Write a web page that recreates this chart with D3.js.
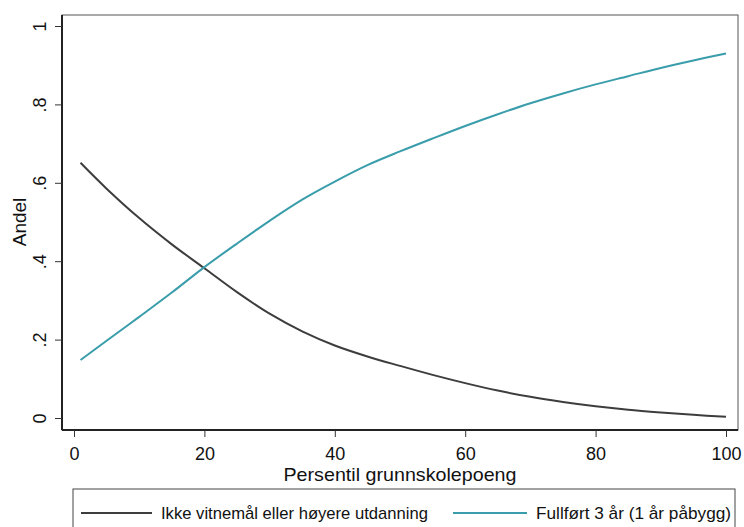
<!DOCTYPE html>
<html><head><meta charset="utf-8">
<script src="https://cdn.jsdelivr.net/npm/d3@7"></script>
<style>body{margin:0;background:#fff;} svg{display:block;font-family:"Liberation Sans",Arial,sans-serif;}</style>
</head><body>
<script>
const percentiles = [1,5,10,15,20,25,30,35,40,45,50,55,60,65,70,75,80,85,90,95,100];
const ikkeVitnemal = [0.651,0.585,0.51,0.443,0.382,0.321,0.266,0.221,0.185,0.157,0.133,0.110,0.089,0.070,0.054,0.041,0.030,0.021,0.014,0.008,0.003];
const fullfort3 = [0.148,0.197,0.258,0.320,0.385,0.445,0.503,0.557,0.603,0.645,0.680,0.713,0.745,0.775,0.803,0.828,0.851,0.872,0.893,0.912,0.930];
const xTicks = [0,20,40,60,80,100];
const yTicks = [0,0.2,0.4,0.6,0.8,1];
const yTickLabels = ["0",".2",".4",".6",".8","1"];
const seriesNames = ["Ikke vitnemål eller høyere utdanning","Fullført 3 år (1 år påbygg)"];
const seriesColors = ["#3d3d3d","#3a9dab"];

const W=744,H=527;
const svg=d3.select("body").append("svg").attr("width",W).attr("height",H);
const box={l:62,t:15,r:738,b:430};
const x=d3.scaleLinear().domain([0,100]).range([74,726]);
const y=d3.scaleLinear().domain([0,1]).range([418,26]);

// frame
svg.append("rect").attr("x",box.l).attr("y",box.t).attr("width",box.r-box.l).attr("height",box.b-box.t)
  .attr("fill","none").attr("stroke","#555").attr("stroke-width",1);

// y axis
const ya=svg.append("g").attr("transform",`translate(${box.l},0)`)
  .call(d3.axisLeft(y).tickValues(yTicks).tickFormat((d,i)=>yTickLabels[i]).tickSize(7));
ya.select(".domain").attr("d",`M0,${box.t}V${box.b}`).attr("stroke","#222").attr("stroke-width",2);
ya.selectAll(".tick line").attr("stroke","#333");
ya.selectAll(".tick text").attr("font-size",18).attr("fill","#111")
  .attr("x",null).attr("dy",null).attr("text-anchor","middle")
  .attr("transform","translate(-16,0) rotate(-90)");

// x axis
const xa=svg.append("g").attr("transform",`translate(0,${box.b})`)
  .call(d3.axisBottom(x).tickValues(xTicks).tickSize(7).tickPadding(10));
xa.select(".domain").attr("d",`M${box.l},0H${box.r}`).attr("stroke","#222").attr("stroke-width",2);
xa.selectAll(".tick line").attr("stroke","#333");
xa.selectAll(".tick text").attr("font-size",18).attr("fill","#111");

// titles
svg.append("text").attr("x",400).attr("y",481).attr("text-anchor","middle").attr("font-size",19)
  .attr("textLength",233).attr("lengthAdjust","spacingAndGlyphs").attr("fill","#111").text("Persentil grunnskolepoeng");
svg.append("text").attr("transform","translate(26,222) rotate(-90)").attr("text-anchor","middle").attr("font-size",19).attr("fill","#111").text("Andel");

// lines
const series=[ikkeVitnemal,fullfort3];
const line=d3.line().x(d=>x(d[0])).y(d=>y(d[1])).curve(d3.curveCatmullRom.alpha(0.5));
series.forEach((s,i)=>{
  svg.append("path").datum(percentiles.map((p,j)=>[p,s[j]]))
    .attr("d",line).attr("fill","none").attr("stroke",seriesColors[i]).attr("stroke-width",2);
});

// legend
svg.append("rect").attr("x",73).attr("y",489).attr("width",662).attr("height",50).attr("fill","none").attr("stroke","#444").attr("stroke-width",1);
const legX=[[81,152,161,267],[453,527,536,195]];
seriesNames.forEach((n,i)=>{
  svg.append("line").attr("x1",legX[i][0]).attr("x2",legX[i][1]).attr("y1",513).attr("y2",513).attr("stroke",seriesColors[i]).attr("stroke-width",2);
  svg.append("text").attr("x",legX[i][2]).attr("y",519).attr("font-size",17)
    .attr("textLength",legX[i][3]).attr("lengthAdjust","spacingAndGlyphs").attr("fill","#111").text(n);
});
</script>
</body></html>
